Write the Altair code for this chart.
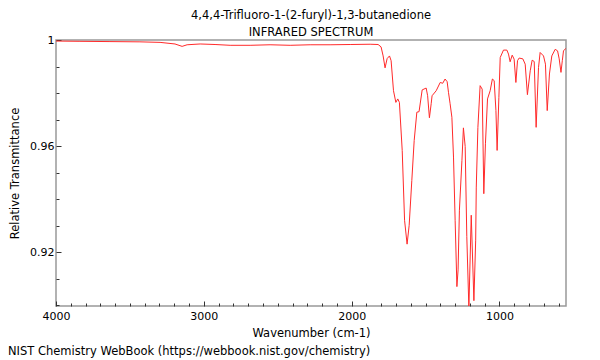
import altair as alt
import pandas as pd

TITLE = ["4,4,4-Trifluoro-1-(2-furyl)-1,3-butanedione", "INFRARED SPECTRUM"]
FOOTER = "NIST Chemistry WebBook (https://webbook.nist.gov/chemistry)"
X_TITLE = "Wavenumber (cm-1)"
Y_TITLE = "Relative Transmittance"

wavenumber = [
    4000, 3838, 3635, 3432, 3296, 3195, 3147, 3113, 3025, 2924, 2822, 2687, 2552,
    2416, 2281, 2146, 2010, 1875, 1821, 1801, 1787, 1774, 1760, 1744, 1733, 1717,
    1701, 1688, 1677, 1658, 1642, 1625, 1611, 1593, 1577, 1559, 1544, 1523, 1496,
    1486, 1474, 1462, 1456, 1428, 1401, 1384, 1368, 1354, 1345, 1334, 1322, 1311,
    1300, 1288, 1280, 1271, 1254, 1244, 1232, 1221, 1207, 1191, 1173, 1161, 1157,
    1146, 1131, 1117, 1106, 1095, 1081, 1063, 1048, 1036, 1024, 1016, 1004, 995,
    973, 950, 939, 928, 914, 901, 889, 878, 867, 842, 826, 811, 792, 779, 765,
    752, 736, 725, 702, 689, 677, 662, 646, 623, 607, 596, 584, 575, 567, 550,
]
transmittance = [
    0.9996, 0.9995, 0.9994, 0.9993, 0.9991, 0.9985, 0.9976, 0.9982, 0.9985,
    0.9983, 0.9980, 0.9980, 0.9982, 0.9980, 0.9982, 0.9982, 0.9983, 0.9984,
    0.9983, 0.9974, 0.9940, 0.9895, 0.9930, 0.9940, 0.9922, 0.9809, 0.9765,
    0.9778, 0.9765, 0.9584, 0.9321, 0.9231, 0.9302, 0.9471, 0.9621, 0.9728,
    0.9730, 0.9812, 0.9819, 0.9790, 0.9707, 0.9760, 0.9790, 0.9809, 0.9840,
    0.9837, 0.9853, 0.9843, 0.9803, 0.9760, 0.9709, 0.9559, 0.9321, 0.9071,
    0.9134, 0.9359, 0.9546, 0.9669, 0.9599, 0.9259, 0.8990, 0.9340, 0.9018,
    0.9246, 0.9446, 0.9671, 0.9828, 0.9815, 0.9421, 0.9609, 0.9778, 0.9809,
    0.9853, 0.9847, 0.9734, 0.9584, 0.9784, 0.9934, 0.9962, 0.9962, 0.9947,
    0.9918, 0.9943, 0.9928, 0.9840, 0.9922, 0.9932, 0.9929, 0.9909, 0.9794,
    0.9884, 0.9924, 0.9919, 0.9671, 0.9896, 0.9953, 0.9940, 0.9909, 0.9734,
    0.9872, 0.9940, 0.9965, 0.9959, 0.9929, 0.9878, 0.9922, 0.9959, 0.9969,
]

x_domain = [4000, 550]
y_domain = [0.8998, 1.0]
x_label_values = [1000, 2000, 3000, 4000]
x_tick_values = list(range(600, 4001, 100))
y_label_values = [0.92, 0.96, 1.0]
y_tick_values = [0.90, 0.91, 0.92, 0.93, 0.94, 0.95, 0.96, 0.97, 0.98, 0.99, 1.0]

W, H = 510, 266
FONT = "DejaVu Sans"
FS = 11.5

df = pd.DataFrame({"wn": wavenumber, "t": transmittance})

xs = alt.Scale(domain=x_domain, nice=False, zero=False)
ys = alt.Scale(domain=y_domain, nice=False, zero=False)

line = alt.Chart(df).mark_line(color="#ff2a2a", strokeWidth=1, clip=True).encode(
    x=alt.X("wn:Q", scale=xs, axis=alt.Axis(
        orient="bottom", values=x_label_values, format="d", ticks=False, domain=False,
        grid=False, labelFont=FONT, labelFontSize=11, labelColor="black", labelPadding=4,
        title=X_TITLE, titleFont=FONT, titleFontSize=FS, titleFontWeight="normal",
        titleColor="black", titlePadding=6, labelFlush=False)),
    y=alt.Y("t:Q", scale=ys, axis=alt.Axis(
        orient="left", values=y_label_values, format="~g", ticks=False, domain=False,
        grid=False, labelFont=FONT, labelFontSize=11, labelColor="black", labelPadding=2,
        title=Y_TITLE, titleFont=FONT, titleFontSize=FS, titleFontWeight="normal",
        titleColor="black", titlePadding=9, labelFlush=False)),
)

ticks = alt.Chart(df).mark_line(opacity=0).encode(
    x=alt.X("wn:Q", scale=xs, axis=alt.Axis(
        orient="top", offset=-H, values=x_tick_values, labels=False, domain=False,
        grid=False, title=None, tickColor="#333",
        tickSize={"condition": {"test": "datum.value % 1000 === 0", "value": 5}, "value": 3})),
    y=alt.Y("t:Q", scale=ys, axis=alt.Axis(
        orient="right", offset=-W, values=y_tick_values, labels=False, domain=False,
        grid=False, title=None, tickColor="#333",
        tickSize={"condition": {"test": "round(datum.value*100) % 4 === 0", "value": 5}, "value": 3})),
)

footer = alt.Chart(pd.DataFrame({"txt": [FOOTER]})).mark_text(
    align="left", baseline="middle", font=FONT, fontSize=FS, color="black", clip=False
).encode(text="txt:N", x=alt.value(-48), y=alt.value(312))

chart = alt.layer(line, ticks, footer).resolve_axis(x="independent", y="independent").properties(
    width=W, height=H,
    padding={"left": 48, "top": 32, "right": 20, "bottom": 52},
    autosize=alt.AutoSizeParams(type="none"),
    title=alt.TitleParams(text=TITLE, font=FONT, fontSize=FS, fontWeight="normal",
                          color="black", anchor="middle", offset=-4, lineHeight=17),
).configure_view(stroke="#999", strokeWidth=1.5)

chart.save("out.html", embed_options={"renderer": "svg", "actions": False})
